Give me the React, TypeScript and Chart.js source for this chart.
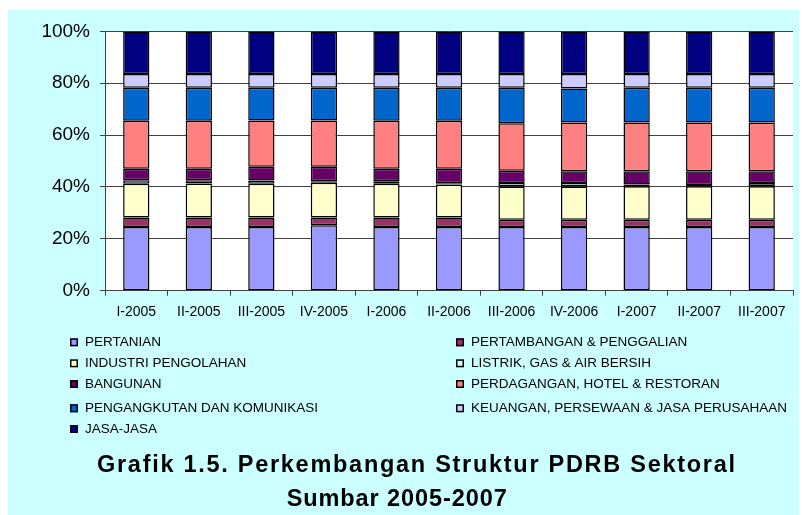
import React, { useEffect, useRef } from "react";
import { Chart, registerables } from "chart.js";

Chart.register(...registerables);

const CATEGORIES = ["I-2005", "II-2005", "III-2005", "IV-2005", "I-2006", "II-2006", "III-2006", "IV-2006", "I-2007", "II-2007", "III-2007"];

const PERTANIAN = [24.6, 24.6, 24.6, 25.2, 24.6, 24.6, 24.6, 24.6, 24.6, 24.6, 24.6];
const PERTAMBANGAN = [3.6, 3.6, 3.6, 3.0, 3.6, 3.6, 2.8, 2.8, 2.8, 2.8, 2.8];
const INDUSTRI = [13.0, 13.1, 13.0, 13.4, 13.0, 12.8, 12.8, 12.8, 12.9, 12.9, 12.9];
const LISTRIK = [1.4, 1.3, 1.3, 0.6, 1.0, 0.4, 1.3, 1.3, 0.7, 0.5, 1.2];
const BANGUNAN = [4.4, 4.4, 5.3, 5.6, 4.8, 5.6, 4.8, 4.6, 5.1, 5.3, 4.6];
const PERDAGANGAN = [18.5, 18.5, 17.8, 17.8, 18.5, 18.5, 18.3, 18.8, 18.8, 18.8, 18.8];
const PENGANGKUTAN = [12.8, 12.8, 12.7, 12.7, 12.8, 12.8, 13.7, 13.1, 13.4, 13.4, 13.4];
const KEUANGAN = [5.3, 5.3, 5.3, 5.3, 5.3, 5.3, 5.3, 5.6, 5.3, 5.3, 5.3];
const JASA = [16.4, 16.4, 16.4, 16.4, 16.4, 16.4, 16.4, 16.4, 16.4, 16.4, 16.4];

const SERIES_LABELS = [
  "PERTANIAN",
  "PERTAMBANGAN & PENGGALIAN",
  "INDUSTRI PENGOLAHAN",
  "LISTRIK, GAS & AIR BERSIH",
  "BANGUNAN",
  "PERDAGANGAN, HOTEL & RESTORAN",
  "PENGANGKUTAN DAN KOMUNIKASI",
  "KEUANGAN, PERSEWAAN & JASA PERUSAHAAN",
  "JASA-JASA",
];
const SERIES_VALUES = [PERTANIAN, PERTAMBANGAN, INDUSTRI, LISTRIK, BANGUNAN, PERDAGANGAN, PENGANGKUTAN, KEUANGAN, JASA];
const SERIES_COLORS = ["#9999FF", "#993366", "#FFFFCC", "#CCFFFF", "#660066", "#FF8080", "#0066CC", "#CCCCFF", "#000080"];

const TITLE_LINES = ["Grafik 1.5. Perkembangan Struktur PDRB Sektoral", "Sumbar 2005-2007"];

const BG = "#CCFFFF";
const FONT = '"Liberation Sans", Arial, sans-serif';

const plotBgPlugin = {
  id: "plotBg",
  beforeDraw(chart: any) {
    const { ctx, chartArea } = chart;
    ctx.save();
    ctx.fillStyle = "#FFFFFF";
    ctx.fillRect(chartArea.left, chartArea.top, chartArea.right - chartArea.left, chartArea.bottom - chartArea.top);
    ctx.restore();
  },
};

const overlayPlugin = {
  id: "overlay",
  afterDraw(chart: any) {
    const ctx = chart.ctx as CanvasRenderingContext2D;
    ctx.save();
    const rowsY = [332.3, 353.3, 374, 398.3, 419];
    const colX = [62, 448];
    ctx.font = `13.5px ${FONT}`;
    ctx.textBaseline = "middle";
    ctx.textAlign = "left";
    chart.data.datasets.forEach((ds: any, i: number) => {
      const col = i % 2;
      const row = Math.floor(i / 2);
      const x = colX[col];
      const y = rowsY[row];
      ctx.fillStyle = ds.backgroundColor;
      ctx.fillRect(x, y - 4, 8, 8);
      ctx.strokeStyle = "#000";
      ctx.lineWidth = 1.5;
      ctx.strokeRect(x + 0.75, y - 3.25, 6.5, 6.5);
      ctx.fillStyle = "#000";
      ctx.fillText(ds.label, x + 15, y);
    });
    ctx.font = `bold 23.5px ${FONT}`;
    ctx.textBaseline = "alphabetic";
    const titleSpec = [
      { x0: 89, x1: 727, y: 462 },
      { x0: 278.7, x1: 498.7, y: 496 },
    ];
    TITLE_LINES.forEach((t, i) => {
      const s = titleSpec[i];
      (ctx as any).letterSpacing = "0px";
      const w = ctx.measureText(t).width;
      const ls = (s.x1 - s.x0 - w) / (t.length - 1);
      (ctx as any).letterSpacing = `${ls}px`;
      ctx.fillStyle = "#000";
      ctx.fillText(t, s.x0, s.y);
    });
    (ctx as any).letterSpacing = "0px";
    ctx.restore();
  },
};

export default function App() {
  const ref = useRef<HTMLCanvasElement | null>(null);

  useEffect(() => {
    if (!ref.current) return;
    const chart = new Chart(ref.current, {
      type: "bar",
      data: {
        labels: CATEGORIES,
        datasets: SERIES_LABELS.map((label, i) => ({
          label,
          data: SERIES_VALUES[i],
          backgroundColor: SERIES_COLORS[i],
          borderColor: "#000000",
          borderWidth: 1.5,
          borderSkipped: false,
          barPercentage: 0.42,
          categoryPercentage: 1,
        })),
      },
      options: {
        responsive: false,
        animation: false,
        layout: { padding: { top: 20, right: 14, left: 0, bottom: 0 } },
        plugins: {
          legend: { display: false },
          title: { display: false },
          tooltip: { enabled: false },
        },
        scales: {
          x: {
            stacked: true,
            grid: { offset: true, drawOnChartArea: false, drawTicks: true, tickLength: 5, color: "#404040" },
            border: { color: "#404040", width: 1 },
            ticks: { color: "#000", font: { size: 14, family: FONT }, padding: 8, maxRotation: 0, autoSkip: false },
            afterFit(scale: any) {
              scale.height = 224.3;
            },
          },
          y: {
            stacked: true,
            min: 0,
            max: 100,
            grid: { color: "#404040", tickLength: 5, lineWidth: 1 },
            border: { color: "#404040", width: 1 },
            ticks: {
              stepSize: 20,
              color: "#000",
              font: { size: 19, family: FONT },
              padding: 10,
              callback: (v: any) => `${v}%`,
            },
            afterFit(scale: any) {
              scale.width = 97;
            },
          },
        },
      },
      plugins: [plotBgPlugin, overlayPlugin],
    });
    return () => chart.destroy();
  }, []);

  return (
    <div style={{ paddingTop: 2 }}>
      <div style={{ width: 799, height: 505, background: BG }}>
        <canvas ref={ref} width={799} height={505} style={{ display: "block", width: 799, height: 505 }} />
      </div>
    </div>
  );
}
